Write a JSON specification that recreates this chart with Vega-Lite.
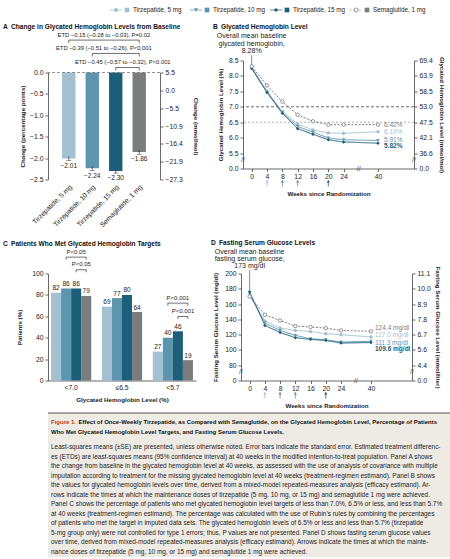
{
"$schema": "https://vega.github.io/schema/vega-lite/v6.json",
"background": "white",
"padding": {"left": 3, "top": 5, "right": 3, "bottom": 3},
"spacing": 3,
"datasets": {
"legend": [{"series": "Tirzepatide, 5 mg"}, {"series": "Tirzepatide, 10 mg"}, {"series": "Tirzepatide, 15 mg"}, {"series": "Semaglutide, 1 mg"}],
"changeA": [
{"group": "Tirzepatide, 5 mg", "value": -2.01, "lo": -2.06, "hi": -1.96},
{"group": "Tirzepatide, 10 mg", "value": -2.24, "lo": -2.29, "hi": -2.19},
{"group": "Tirzepatide, 15 mg", "value": -2.30, "lo": -2.35, "hi": -2.25},
{"group": "Semaglutide, 1 mg", "value": -1.86, "lo": -1.91, "hi": -1.81}
],
"bracketsA": [
{"id": "a1", "from": "Tirzepatide, 5 mg", "to": "Semaglutide, 1 mg", "level": 0.757, "label": "ETD −0.15 (−0.28 to −0.03), P=0.02", "anchor": "Tirzepatide, 10 mg", "nudge": "mid"},
{"id": "a2", "from": "Tirzepatide, 10 mg", "to": "Semaglutide, 1 mg", "level": 0.445, "label": "ETD −0.39 (−0.51 to −0.26), P<0.001", "anchor": "Tirzepatide, 10 mg", "nudge": "mid"},
{"id": "a3", "from": "Tirzepatide, 15 mg", "to": "Semaglutide, 1 mg", "level": 0.117, "label": "ETD −0.45 (−0.57 to −0.32), P<0.001", "anchor": "Tirzepatide, 15 mg", "nudge": "right"}
],
"hba1c": [
{"series": "Tirzepatide, 5 mg", "week": 0, "value": 8.28}, {"series": "Tirzepatide, 5 mg", "week": 4, "value": 7.50}, {"series": "Tirzepatide, 5 mg", "week": 8, "value": 6.85}, {"series": "Tirzepatide, 5 mg", "week": 12, "value": 6.44}, {"series": "Tirzepatide, 5 mg", "week": 16, "value": 6.25}, {"series": "Tirzepatide, 5 mg", "week": 20, "value": 6.15}, {"series": "Tirzepatide, 5 mg", "week": 24, "value": 6.14}, {"series": "Tirzepatide, 5 mg", "week": 40, "value": 6.19},
{"series": "Tirzepatide, 10 mg", "week": 0, "value": 8.26}, {"series": "Tirzepatide, 10 mg", "week": 4, "value": 7.48}, {"series": "Tirzepatide, 10 mg", "week": 8, "value": 6.82}, {"series": "Tirzepatide, 10 mg", "week": 12, "value": 6.36}, {"series": "Tirzepatide, 10 mg", "week": 16, "value": 6.18}, {"series": "Tirzepatide, 10 mg", "week": 20, "value": 5.99}, {"series": "Tirzepatide, 10 mg", "week": 24, "value": 5.93}, {"series": "Tirzepatide, 10 mg", "week": 40, "value": 5.91},
{"series": "Tirzepatide, 15 mg", "week": 0, "value": 8.24}, {"series": "Tirzepatide, 15 mg", "week": 4, "value": 7.46}, {"series": "Tirzepatide, 15 mg", "week": 8, "value": 6.79}, {"series": "Tirzepatide, 15 mg", "week": 12, "value": 6.29}, {"series": "Tirzepatide, 15 mg", "week": 16, "value": 6.11}, {"series": "Tirzepatide, 15 mg", "week": 20, "value": 5.93}, {"series": "Tirzepatide, 15 mg", "week": 24, "value": 5.86}, {"series": "Tirzepatide, 15 mg", "week": 40, "value": 5.82},
{"series": "Semaglutide, 1 mg", "week": 0, "value": 8.31}, {"series": "Semaglutide, 1 mg", "week": 4, "value": 7.69}, {"series": "Semaglutide, 1 mg", "week": 8, "value": 7.17}, {"series": "Semaglutide, 1 mg", "week": 12, "value": 6.74}, {"series": "Semaglutide, 1 mg", "week": 16, "value": 6.53}, {"series": "Semaglutide, 1 mg", "week": 20, "value": 6.42}, {"series": "Semaglutide, 1 mg", "week": 24, "value": 6.42}, {"series": "Semaglutide, 1 mg", "week": 40, "value": 6.42}
],
"hba1cEnd": [
{"series": "Semaglutide, 1 mg", "week": 40, "value": 6.42, "label": "6.42%"},
{"series": "Tirzepatide, 5 mg", "week": 40, "value": 6.19, "label": "6.19%"},
{"series": "Tirzepatide, 10 mg", "week": 40, "value": 5.91, "label": "5.91%"},
{"series": "Tirzepatide, 15 mg", "week": 40, "value": 5.82, "label": "5.82%"}
],
"arrows": [
{"week": 4, "series": "Tirzepatide, 5 mg"}, {"week": 8, "series": "Semaglutide, 1 mg"}, {"week": 12, "series": "Tirzepatide, 10 mg"}, {"week": 20, "series": "Tirzepatide, 15 mg"}
],
"pctC": [
{"target": "<7.0", "group": "Tirzepatide, 5 mg", "value": 82}, {"target": "<7.0", "group": "Tirzepatide, 10 mg", "value": 86}, {"target": "<7.0", "group": "Tirzepatide, 15 mg", "value": 86}, {"target": "<7.0", "group": "Semaglutide, 1 mg", "value": 79},
{"target": "≤6.5", "group": "Tirzepatide, 5 mg", "value": 69}, {"target": "≤6.5", "group": "Tirzepatide, 10 mg", "value": 77}, {"target": "≤6.5", "group": "Tirzepatide, 15 mg", "value": 80}, {"target": "≤6.5", "group": "Semaglutide, 1 mg", "value": 64},
{"target": "<5.7", "group": "Tirzepatide, 5 mg", "value": 27}, {"target": "<5.7", "group": "Tirzepatide, 10 mg", "value": 40}, {"target": "<5.7", "group": "Tirzepatide, 15 mg", "value": 46}, {"target": "<5.7", "group": "Semaglutide, 1 mg", "value": 19}
],
"bracketsC": [
{"id": "c1", "target": "<7.0", "from": "Tirzepatide, 10 mg", "to": "Semaglutide, 1 mg", "level": 115.3, "label": "P<0.05", "mid": "Tirzepatide, 15 mg", "kind": "w"},
{"id": "c2", "target": "<7.0", "from": "Tirzepatide, 15 mg", "to": "Semaglutide, 1 mg", "level": 103.5, "label": "P<0.05", "mid": "Semaglutide, 1 mg", "kind": "n"},
{"id": "c3", "target": "<5.7", "from": "Tirzepatide, 10 mg", "to": "Semaglutide, 1 mg", "level": 72.3, "label": "P<0.001", "mid": "Tirzepatide, 15 mg", "kind": "w"},
{"id": "c4", "target": "<5.7", "from": "Tirzepatide, 15 mg", "to": "Semaglutide, 1 mg", "level": 59.8, "label": "P<0.001", "mid": "Semaglutide, 1 mg", "kind": "n"}
],
"fsg": [
{"series": "Tirzepatide, 5 mg", "week": 0, "value": 171}, {"series": "Tirzepatide, 5 mg", "week": 4, "value": 137.8}, {"series": "Tirzepatide, 5 mg", "week": 8, "value": 128.6}, {"series": "Tirzepatide, 5 mg", "week": 12, "value": 125.5}, {"series": "Tirzepatide, 5 mg", "week": 16, "value": 124.2}, {"series": "Tirzepatide, 5 mg", "week": 20, "value": 121.2}, {"series": "Tirzepatide, 5 mg", "week": 24, "value": 119.9}, {"series": "Tirzepatide, 5 mg", "week": 40, "value": 117.0},
{"series": "Tirzepatide, 10 mg", "week": 0, "value": 173}, {"series": "Tirzepatide, 10 mg", "week": 4, "value": 135.2}, {"series": "Tirzepatide, 10 mg", "week": 8, "value": 125.5}, {"series": "Tirzepatide, 10 mg", "week": 12, "value": 119.0}, {"series": "Tirzepatide, 10 mg", "week": 16, "value": 114.6}, {"series": "Tirzepatide, 10 mg", "week": 20, "value": 113.3}, {"series": "Tirzepatide, 10 mg", "week": 24, "value": 110.3}, {"series": "Tirzepatide, 10 mg", "week": 40, "value": 111.3},
{"series": "Tirzepatide, 15 mg", "week": 0, "value": 176}, {"series": "Tirzepatide, 15 mg", "week": 4, "value": 132.0}, {"series": "Tirzepatide, 15 mg", "week": 8, "value": 122.9}, {"series": "Tirzepatide, 15 mg", "week": 12, "value": 116.0}, {"series": "Tirzepatide, 15 mg", "week": 16, "value": 113.8}, {"series": "Tirzepatide, 15 mg", "week": 20, "value": 112.4}, {"series": "Tirzepatide, 15 mg", "week": 24, "value": 109.0}, {"series": "Tirzepatide, 15 mg", "week": 40, "value": 109.6},
{"series": "Semaglutide, 1 mg", "week": 0, "value": 170}, {"series": "Semaglutide, 1 mg", "week": 4, "value": 146.0}, {"series": "Semaglutide, 1 mg", "week": 8, "value": 138.6}, {"series": "Semaglutide, 1 mg", "week": 12, "value": 131.2}, {"series": "Semaglutide, 1 mg", "week": 16, "value": 130.0}, {"series": "Semaglutide, 1 mg", "week": 20, "value": 128.6}, {"series": "Semaglutide, 1 mg", "week": 24, "value": 125.5}, {"series": "Semaglutide, 1 mg", "week": 40, "value": 124.4}
],
"fsgEnd": [
{"series": "Semaglutide, 1 mg", "week": 40, "value": 124.4, "label": "124.4 mg/dl"},
{"series": "Tirzepatide, 5 mg", "week": 40, "value": 117.0, "label": "117.0 mg/dl"},
{"series": "Tirzepatide, 10 mg", "week": 40, "value": 111.3, "label": "111.3 mg/dl"},
{"series": "Tirzepatide, 15 mg", "week": 40, "value": 109.6, "label": "109.6 mg/dl"}
],
"caption": [
{"line": 1, "kind": "fig", "text": "Figure 1."},
{"line": 1, "kind": "title1", "text": "Effect of Once-Weekly Tirzepatide, as Compared with Semaglutide, on the Glycated Hemoglobin Level, Percentage of Patients"},
{"line": 2, "kind": "title2", "text": "Who Met Glycated Hemoglobin Level Targets, and Fasting Serum Glucose Levels."},
{"line": 3, "kind": "body", "text": "Least-squares means (±SE) are presented, unless otherwise noted. Error bars indicate the standard error. Estimated treatment differenc-"},
{"line": 4, "kind": "body", "text": "es (ETDs) are least-squares means (95% confidence interval) at 40 weeks in the modified intention-to-treat population. Panel A shows"},
{"line": 5, "kind": "body", "text": "the change from baseline in the glycated hemoglobin level at 40 weeks, as assessed with the use of analysis of covariance with multiple"},
{"line": 6, "kind": "body", "text": "imputation according to treatment for the missing glycated hemoglobin level at 40 weeks (treatment-regimen estimand). Panel B shows"},
{"line": 7, "kind": "body", "text": "the values for glycated hemoglobin levels over time, derived from a mixed-model repeated-measures analysis (efficacy estimand). Ar-"},
{"line": 8, "kind": "body", "text": "rows indicate the times at which the maintenance doses of tirzepatide (5 mg, 10 mg, or 15 mg) and semaglutide 1 mg were achieved."},
{"line": 9, "kind": "body", "text": "Panel C shows the percentage of patients who met glycated hemoglobin level targets of less than 7.0%, 6.5% or less, and less than 5.7%"},
{"line": 10, "kind": "body", "text": "at 40 weeks (treatment-regimen estimand). The percentage was calculated with the use of Rubin’s rules by combining the percentages"},
{"line": 11, "kind": "body", "text": "of patients who met the target in imputed data sets. The glycated hemoglobin levels of 6.5% or less and less than 5.7% (tirzepatide"},
{"line": 12, "kind": "body", "text": "5-mg group only) were not controlled for type 1 errors; thus, P values are not presented. Panel D shows fasting serum glucose values"},
{"line": 13, "kind": "body", "text": "over time, derived from mixed-model repeated-measures analysis (efficacy estimand). Arrows indicate the times at which the mainte-"},
{"line": 14, "kind": "body", "text": "nance doses of tirzepatide (5 mg, 10 mg, or 15 mg) and semaglutide 1 mg were achieved."}
]
},
"vconcat": [
{"spacing": 8.5, "vconcat": [
{
"width": 440, "height": 10,
"data": {"name": "legend"},
"layer": [
{"transform": [{"filter": "datum.series != 'Semaglutide, 1 mg'"}], "mark": {"type": "point", "shape": "stroke", "size": 144, "xOffset": 8, "strokeWidth": 1, "filled": false},
 "encoding": {"x": {"field": "series", "type": "nominal", "bandPosition": 0, "sort": null, "scale": {"type": "band", "domain": ["Tirzepatide, 5 mg", "Tirzepatide, 10 mg", "Tirzepatide, 15 mg", "Semaglutide, 1 mg"], "paddingInner": 0, "paddingOuter": 0.75}, "axis": null}, "y": {"datum": 0, "type": "quantitative", "scale": {"domain": [-1, 1]}, "axis": null}, "color": {"field": "series", "type": "nominal", "scale": {"domain": ["Tirzepatide, 5 mg", "Tirzepatide, 10 mg", "Tirzepatide, 15 mg", "Semaglutide, 1 mg"], "range": ["#a3c1d0", "#5e95ae", "#1d5f78", "#7b7c7e"]}, "legend": null}}},
{"transform": [{"filter": "datum.series == 'Semaglutide, 1 mg'"}], "mark": {"type": "point", "shape": "stroke", "size": 144, "xOffset": 8, "strokeWidth": 1, "strokeDash": [1.5, 1.5], "filled": false},
 "encoding": {"x": {"field": "series", "type": "nominal", "bandPosition": 0}, "y": {"datum": 0, "type": "quantitative"}, "color": {"field": "series", "type": "nominal", "legend": null}}},
{"transform": [{"filter": "datum.series != 'Semaglutide, 1 mg'"}], "mark": {"type": "point", "filled": true, "size": 16, "xOffset": 8, "opacity": 1},
 "encoding": {"x": {"field": "series", "type": "nominal", "bandPosition": 0}, "y": {"datum": 0, "type": "quantitative"}, "color": {"field": "series", "type": "nominal", "legend": null}, "shape": {"field": "series", "type": "nominal", "scale": {"domain": ["Tirzepatide, 5 mg", "Tirzepatide, 10 mg", "Tirzepatide, 15 mg", "Semaglutide, 1 mg"], "range": ["circle", "triangle-down", "diamond", "circle"]}, "legend": null}}},
{"transform": [{"filter": "datum.series == 'Semaglutide, 1 mg'"}], "mark": {"type": "point", "filled": false, "fill": "white", "size": 16, "xOffset": 8, "opacity": 1, "strokeWidth": 0.8},
 "encoding": {"x": {"field": "series", "type": "nominal", "bandPosition": 0}, "y": {"datum": 0, "type": "quantitative"}, "color": {"field": "series", "type": "nominal", "legend": null}}},
{"mark": {"type": "square", "size": 22, "xOffset": 19, "opacity": 1},
 "encoding": {"x": {"field": "series", "type": "nominal", "bandPosition": 0}, "y": {"datum": 0, "type": "quantitative"}, "color": {"field": "series", "type": "nominal", "legend": null}}},
{"mark": {"type": "text", "align": "left", "baseline": "middle", "xOffset": 25, "fontSize": 6.3, "color": "#222"},
 "encoding": {"x": {"field": "series", "type": "nominal", "bandPosition": 0}, "y": {"datum": 0, "type": "quantitative"}, "text": {"field": "series"}}}
]
},
{"spacing": 11, "vconcat": [
{"spacing": 14, "align": "none", "hconcat": [
{
"width": 112, "height": 119,
"title": {"text": "\u00a0\u00a0\u00a0A\u2002Change in Glycated Hemoglobin Levels from Baseline", "dx": -45},
"layer": [
{"layer": [
{"data": {"name": "changeA"}, "mark": {"type": "bar"},
 "encoding": {
  "x": {"field": "group", "type": "nominal", "sort": null, "scale": {"domain": ["Tirzepatide, 5 mg", "Tirzepatide, 10 mg", "Tirzepatide, 15 mg", "Semaglutide, 1 mg"], "paddingInner": 0.43, "paddingOuter": 0.6}, "axis": {"title": null, "labelAngle": -45, "domain": false, "ticks": false, "labelPadding": 4}},
  "y": {"field": "value", "type": "quantitative", "scale": {"domain": [-2.5, 0], "range": [119, 12], "nice": false}, "axis": {"values": [0, -0.5, -1, -1.5, -2, -2.5], "tickCount": 50, "format": ".1f", "title": "Change (percentage points)", "titlePadding": 4}},
  "color": {"field": "group", "type": "nominal", "scale": {"domain": ["Tirzepatide, 5 mg", "Tirzepatide, 10 mg", "Tirzepatide, 15 mg", "Semaglutide, 1 mg"], "range": ["#a3c1d0", "#5e95ae", "#1d5f78", "#7b7c7e"]}, "legend": null}}},
{"data": {"values": [{}]}, "mark": {"type": "rule", "strokeDash": [3, 2], "color": "#777", "strokeWidth": 0.8}, "encoding": {"y": {"datum": 0, "type": "quantitative"}}},
{"data": {"name": "changeA"}, "mark": {"type": "rule", "color": "#333", "strokeWidth": 0.7}, "encoding": {"x": {"field": "group", "type": "nominal"}, "y": {"field": "lo", "type": "quantitative"}, "y2": {"field": "hi"}}},
{"data": {"name": "changeA"}, "mark": {"type": "tick", "color": "#333", "thickness": 0.7, "size": 5}, "encoding": {"x": {"field": "group", "type": "nominal"}, "y": {"field": "lo", "type": "quantitative"}}},
{"data": {"name": "changeA"}, "mark": {"type": "text", "baseline": "top", "dy": 2, "fontSize": 6.5}, "encoding": {"x": {"field": "group", "type": "nominal"}, "y": {"field": "lo", "type": "quantitative"}, "text": {"field": "value", "type": "quantitative", "format": ".2f"}}},
{"data": {"name": "bracketsA"}, "transform": [{"fold": ["from", "to"], "as": ["end", "bar"]}], "mark": {"type": "line", "color": "#333", "strokeWidth": 0.7}, "encoding": {"x": {"field": "bar", "type": "nominal"}, "y": {"field": "level", "type": "quantitative"}, "detail": {"field": "id"}}},
{"data": {"name": "bracketsA"}, "transform": [{"fold": ["from", "to"], "as": ["end", "bar"]}], "mark": {"type": "rule", "color": "#333", "strokeWidth": 0.7, "y2Offset": 3}, "encoding": {"x": {"field": "bar", "type": "nominal"}, "y": {"field": "level", "type": "quantitative"}, "y2": {"field": "level"}}},
{"data": {"name": "bracketsA"}, "transform": [{"filter": "datum.nudge == 'mid'"}], "mark": {"type": "text", "baseline": "middle", "dy": -5.5, "dx": 11.6, "fontSize": 5.8}, "encoding": {"x": {"field": "anchor", "type": "nominal"}, "y": {"field": "level", "type": "quantitative"}, "text": {"field": "label"}}},
{"data": {"name": "bracketsA"}, "transform": [{"filter": "datum.nudge == 'right'"}], "mark": {"type": "text", "baseline": "middle", "dy": -5.5, "dx": 7, "fontSize": 5.8}, "encoding": {"x": {"field": "anchor", "type": "nominal"}, "y": {"field": "level", "type": "quantitative"}, "text": {"field": "label"}}}
]},
{"data": {"values": [{}]}, "mark": {"type": "rule", "opacity": 0}, "encoding": {"y": {"datum": 0, "type": "quantitative", "scale": {"domain": [-27.3, 5.5], "range": [119, 12], "nice": false, "zero": false}, "axis": {"orient": "right", "values": [5.5, 0, -5.5, -10.9, -16.4, -21.9, -27.3], "tickCount": 50, "format": ".1f", "title": "Change (mmol/mol)", "titlePadding": 10}}}}
],
"resolve": {"scale": {"y": "independent"}}
},
{
"width": 171, "height": 108,
"title": {"text": "B\u2002Glycated Hemoglobin Level", "dx": -30},
"layer": [
{"layer": [
{"data": {"values": [{}]}, "mark": {"type": "rule", "strokeDash": [3, 2], "color": "#444", "strokeWidth": 0.8}, "encoding": {"y": {"datum": 7, "type": "quantitative"}}},
{"data": {"values": [{}]}, "mark": {"type": "rule", "strokeDash": [2, 2], "color": "#999", "strokeWidth": 0.8}, "encoding": {"y": {"datum": 6.5, "type": "quantitative"}}},
{"data": {"name": "hba1c"}, "mark": {"type": "line", "strokeWidth": 1},
 "encoding": {
  "x": {"field": "week", "type": "quantitative", "scale": {"domain": [-2.27, 24, 40, 50], "range": [0, 100.6, 135, 171], "nice": false, "zero": false}, "axis": {"values": [0, 4, 8, 12, 16, 20, 24, 40], "tickCount": 50, "title": "Weeks since Randomization", "titlePadding": 10, "labelFlush": false, "labelOverlap": false}},
  "y": {"field": "value", "type": "quantitative", "scale": {"domain": [5, 8.5], "nice": false, "zero": false}, "axis": {"values": [5, 5.5, 6, 6.5, 7, 7.5, 8, 8.5], "tickCount": 50, "labelExpr": "datum.value == 5 ? '0.0' : format(datum.value, '.1f')", "title": "Glycated Hemoglobin Level (%)", "titlePadding": 5, "labelOverlap": false}},
  "color": {"field": "series", "type": "nominal", "legend": null},
  "strokeDash": {"field": "series", "type": "nominal", "scale": {"domain": ["Tirzepatide, 5 mg", "Tirzepatide, 10 mg", "Tirzepatide, 15 mg", "Semaglutide, 1 mg"], "range": [[1, 0], [1, 0], [1, 0], [2, 1.5]]}, "legend": null}}},
{"data": {"name": "hba1c"}, "transform": [{"filter": "datum.series != 'Semaglutide, 1 mg'"}], "mark": {"type": "point", "filled": true, "size": 12, "opacity": 1},
 "encoding": {"x": {"field": "week", "type": "quantitative"}, "y": {"field": "value", "type": "quantitative"}, "color": {"field": "series", "type": "nominal", "legend": null}, "shape": {"field": "series", "type": "nominal", "legend": null}}},
{"data": {"name": "hba1c"}, "transform": [{"filter": "datum.series == 'Semaglutide, 1 mg'"}], "mark": {"type": "point", "filled": false, "fill": "white", "size": 12, "opacity": 1, "strokeWidth": 0.8},
 "encoding": {"x": {"field": "week", "type": "quantitative"}, "y": {"field": "value", "type": "quantitative"}, "color": {"field": "series", "type": "nominal", "legend": null}}},
{"data": {"name": "hba1cEnd"}, "transform": [{"filter": "datum.series != 'Tirzepatide, 15 mg'"}], "mark": {"type": "text", "align": "left", "baseline": "middle", "dx": 6, "fontSize": 6.5},
 "encoding": {"x": {"field": "week", "type": "quantitative"}, "y": {"field": "value", "type": "quantitative"}, "text": {"field": "label"}, "color": {"field": "series", "type": "nominal", "legend": null}}},
{"data": {"name": "hba1cEnd"}, "transform": [{"filter": "datum.series == 'Tirzepatide, 15 mg'"}], "mark": {"type": "text", "align": "left", "baseline": "middle", "dx": 6, "dy": 3, "fontSize": 6.5, "fontWeight": "bold"},
 "encoding": {"x": {"field": "week", "type": "quantitative"}, "y": {"field": "value", "type": "quantitative"}, "text": {"field": "label"}, "color": {"field": "series", "type": "nominal", "legend": null}}},
{"data": {"values": [{}]}, "mark": {"type": "text", "text": ["Overall mean baseline", "glycated hemoglobin,", "8.28%"], "lineHeight": 7.4, "baseline": "top", "align": "center", "fontSize": 7, "color": "#222"},
 "encoding": {"x": {"datum": 0, "type": "quantitative"}, "y": {"datum": 9.42, "type": "quantitative"}}},
{"data": {"values": [{}]}, "mark": {"type": "rule", "strokeWidth": 0.7, "color": "#555"},
 "encoding": {"x": {"datum": 0, "type": "quantitative"}, "y": {"datum": 8.67, "type": "quantitative"}, "y2": {"datum": 8.36}}},
{"data": {"name": "arrows"}, "mark": {"type": "rule", "strokeWidth": 0.8},
 "encoding": {"x": {"field": "week", "type": "quantitative"}, "y": {"datum": 4.42, "type": "quantitative"}, "y2": {"datum": 4.56}, "color": {"field": "series", "type": "nominal", "legend": null}}},
{"data": {"name": "arrows"}, "mark": {"type": "point", "shape": "triangle-up", "filled": true, "size": 10, "opacity": 1},
 "encoding": {"x": {"field": "week", "type": "quantitative"}, "y": {"datum": 4.59, "type": "quantitative"}, "color": {"field": "series", "type": "nominal", "legend": null}}},
{"data": {"values": [{}]}, "mark": {"type": "text", "text": "//", "fontSize": 7, "color": "#444", "baseline": "middle"}, "encoding": {"x": {"datum": -2.27, "type": "quantitative"}, "y": {"datum": 5.28, "type": "quantitative"}}},
{"data": {"values": [{}]}, "mark": {"type": "text", "text": "//", "fontSize": 7, "color": "#444", "baseline": "middle"}, "encoding": {"x": {"datum": 50, "type": "quantitative"}, "y": {"datum": 5.28, "type": "quantitative"}}},
{"data": {"values": [{}]}, "mark": {"type": "text", "text": "//", "fontSize": 7, "color": "#444", "baseline": "middle"}, "encoding": {"x": {"datum": 31, "type": "quantitative"}, "y": {"datum": 5, "type": "quantitative"}}}
]},
{"data": {"values": [{}]}, "mark": {"type": "rule", "opacity": 0}, "encoding": {"y": {"datum": 5, "type": "quantitative", "scale": {"domain": [5, 8.5], "nice": false, "zero": false}, "axis": {"orient": "right", "values": [5, 5.5, 6, 6.5, 7, 7.5, 8, 8.5], "tickCount": 50, "labelExpr": "datum.value == 5 ? '0.0' : format((datum.value - 2.15) * 10.929, '.1f')", "title": "Glycated Hemoglobin Level (mmol/mol)", "titlePadding": 6, "labelOverlap": false}}}}
],
"resolve": {"scale": {"y": "independent"}}
}
]},
{"spacing": 15, "align": "none", "hconcat": [
{
"width": 148, "height": 107,
"title": {"text": "\u00a0\u00a0\u00a0C\u2002Patients Who Met Glycated Hemoglobin Targets", "dx": -45},
"layer": [
{"data": {"name": "pctC"}, "mark": {"type": "bar"},
 "encoding": {
  "x": {"field": "target", "type": "nominal", "sort": null, "scale": {"domain": ["<7.0", "≤6.5", "<5.7"], "paddingInner": 0.21, "paddingOuter": 0.06}, "axis": {"title": "Glycated Hemoglobin Level (%)", "labelAngle": 0, "ticks": false, "titlePadding": 5, "labelPadding": 4}},
  "xOffset": {"field": "group", "type": "nominal", "sort": null, "scale": {"domain": ["Tirzepatide, 5 mg", "Tirzepatide, 10 mg", "Tirzepatide, 15 mg", "Semaglutide, 1 mg"], "paddingInner": 0, "paddingOuter": 0}},
  "y": {"field": "value", "type": "quantitative", "scale": {"domain": [0, 100], "nice": false}, "axis": {"values": [0, 20, 40, 60, 80, 100], "tickCount": 50, "title": "Patients (%)", "titlePadding": 9}},
  "color": {"field": "group", "type": "nominal", "legend": null}}},
{"data": {"name": "pctC"}, "mark": {"type": "text", "baseline": "bottom", "dy": -1.5, "fontSize": 6.5},
 "encoding": {"x": {"field": "target", "type": "nominal"}, "xOffset": {"field": "group", "type": "nominal"}, "y": {"field": "value", "type": "quantitative"}, "text": {"field": "value", "type": "quantitative"}}},
{"data": {"name": "bracketsC"}, "transform": [{"fold": ["from", "to"], "as": ["end", "bar"]}], "mark": {"type": "line", "color": "#333", "strokeWidth": 0.7},
 "encoding": {"x": {"field": "target", "type": "nominal"}, "xOffset": {"field": "bar", "type": "nominal"}, "y": {"field": "level", "type": "quantitative"}, "detail": {"field": "id"}}},
{"data": {"name": "bracketsC"}, "transform": [{"fold": ["from", "to"], "as": ["end", "bar"]}], "mark": {"type": "rule", "color": "#333", "strokeWidth": 0.7, "y2Offset": 2.5},
 "encoding": {"x": {"field": "target", "type": "nominal"}, "xOffset": {"field": "bar", "type": "nominal"}, "y": {"field": "level", "type": "quantitative"}, "y2": {"field": "level"}}},
{"data": {"name": "bracketsC"}, "transform": [{"filter": "datum.kind == 'w'"}], "mark": {"type": "text", "baseline": "middle", "dy": -5.5, "fontSize": 6},
 "encoding": {"x": {"field": "target", "type": "nominal"}, "xOffset": {"field": "mid", "type": "nominal"}, "y": {"field": "level", "type": "quantitative"}, "text": {"field": "label"}}},
{"data": {"name": "bracketsC"}, "transform": [{"filter": "datum.kind == 'n'"}], "mark": {"type": "text", "baseline": "middle", "dy": -5.5, "dx": -4.9, "fontSize": 6},
 "encoding": {"x": {"field": "target", "type": "nominal"}, "xOffset": {"field": "mid", "type": "nominal"}, "y": {"field": "level", "type": "quantitative"}, "text": {"field": "label"}}}
]
},
{
"width": 171, "height": 107,
"title": {"text": "D\u2002Fasting Serum Glucose Levels", "dx": -30},
"layer": [
{"layer": [
{"data": {"name": "fsg"}, "mark": {"type": "line", "strokeWidth": 1},
 "encoding": {
  "x": {"field": "week", "type": "quantitative", "scale": {"domain": [-2.27, 24, 40, 50], "range": [0, 100, 130, 171], "nice": false, "zero": false}, "axis": {"values": [0, 4, 8, 12, 16, 20, 24, 40], "tickCount": 50, "title": "Weeks since Randomization", "titlePadding": 10, "labelFlush": false, "labelOverlap": false}},
  "y": {"field": "value", "type": "quantitative", "scale": {"domain": [60, 200], "nice": false, "zero": false}, "axis": {"values": [60, 80, 100, 120, 140, 160, 180, 200], "tickCount": 50, "labelExpr": "datum.value == 60 ? '0' : format(datum.value, 'd')", "title": "Fasting Serum Glucose Level (mg/dl)", "titlePadding": 6, "labelOverlap": false}},
  "color": {"field": "series", "type": "nominal", "legend": null},
  "strokeDash": {"field": "series", "type": "nominal", "legend": null}}},
{"data": {"name": "fsg"}, "transform": [{"filter": "datum.series != 'Semaglutide, 1 mg'"}], "mark": {"type": "point", "filled": true, "size": 12, "opacity": 1},
 "encoding": {"x": {"field": "week", "type": "quantitative"}, "y": {"field": "value", "type": "quantitative"}, "color": {"field": "series", "type": "nominal", "legend": null}, "shape": {"field": "series", "type": "nominal", "legend": null}}},
{"data": {"name": "fsg"}, "transform": [{"filter": "datum.series == 'Semaglutide, 1 mg'"}], "mark": {"type": "point", "filled": false, "fill": "white", "size": 12, "opacity": 1, "strokeWidth": 0.8},
 "encoding": {"x": {"field": "week", "type": "quantitative"}, "y": {"field": "value", "type": "quantitative"}, "color": {"field": "series", "type": "nominal", "legend": null}}},
{"data": {"name": "fsgEnd"}, "transform": [{"filter": "datum.series == 'Semaglutide, 1 mg'"}], "mark": {"type": "text", "align": "left", "baseline": "middle", "dx": 4, "dy": -3.5, "fontSize": 6.5},
 "encoding": {"x": {"field": "week", "type": "quantitative"}, "y": {"field": "value", "type": "quantitative"}, "text": {"field": "label"}, "color": {"field": "series", "type": "nominal", "legend": null}}},
{"data": {"name": "fsgEnd"}, "transform": [{"filter": "datum.series == 'Tirzepatide, 5 mg'"}], "mark": {"type": "text", "align": "left", "baseline": "middle", "dx": 4, "dy": -1.5, "fontSize": 6.5},
 "encoding": {"x": {"field": "week", "type": "quantitative"}, "y": {"field": "value", "type": "quantitative"}, "text": {"field": "label"}, "color": {"field": "series", "type": "nominal", "legend": null}}},
{"data": {"name": "fsgEnd"}, "transform": [{"filter": "datum.series == 'Tirzepatide, 10 mg'"}], "mark": {"type": "text", "align": "left", "baseline": "middle", "dx": 4, "dy": 1.5, "fontSize": 6.5},
 "encoding": {"x": {"field": "week", "type": "quantitative"}, "y": {"field": "value", "type": "quantitative"}, "text": {"field": "label"}, "color": {"field": "series", "type": "nominal", "legend": null}}},
{"data": {"name": "fsgEnd"}, "transform": [{"filter": "datum.series == 'Tirzepatide, 15 mg'"}], "mark": {"type": "text", "align": "left", "baseline": "middle", "dx": 4, "dy": 6, "fontSize": 6.5, "fontWeight": "bold"},
 "encoding": {"x": {"field": "week", "type": "quantitative"}, "y": {"field": "value", "type": "quantitative"}, "text": {"field": "label"}, "color": {"field": "series", "type": "nominal", "legend": null}}},
{"data": {"values": [{}]}, "mark": {"type": "text", "text": ["Overall mean baseline", "fasting serum glucose,", "173 mg/dl"], "lineHeight": 7.3, "baseline": "top", "align": "center", "fontSize": 7, "color": "#222"},
 "encoding": {"x": {"datum": 0, "type": "quantitative"}, "y": {"datum": 233.5, "type": "quantitative"}}},
{"data": {"values": [{}]}, "mark": {"type": "rule", "strokeWidth": 0.7, "color": "#555"},
 "encoding": {"x": {"datum": 0, "type": "quantitative"}, "y": {"datum": 204.8, "type": "quantitative"}, "y2": {"datum": 178}}},
{"data": {"name": "arrows"}, "mark": {"type": "rule", "strokeWidth": 0.8},
 "encoding": {"x": {"field": "week", "type": "quantitative"}, "y": {"datum": 36.4, "type": "quantitative"}, "y2": {"datum": 42.5}, "color": {"field": "series", "type": "nominal", "legend": null}}},
{"data": {"name": "arrows"}, "mark": {"type": "point", "shape": "triangle-up", "filled": true, "size": 10, "opacity": 1},
 "encoding": {"x": {"field": "week", "type": "quantitative"}, "y": {"datum": 43.5, "type": "quantitative"}, "color": {"field": "series", "type": "nominal", "legend": null}}},
{"data": {"values": [{}]}, "mark": {"type": "text", "text": "//", "fontSize": 7, "color": "#444", "baseline": "middle"}, "encoding": {"x": {"datum": -2.27, "type": "quantitative"}, "y": {"datum": 71, "type": "quantitative"}}},
{"data": {"values": [{}]}, "mark": {"type": "text", "text": "//", "fontSize": 7, "color": "#444", "baseline": "middle"}, "encoding": {"x": {"datum": 50, "type": "quantitative"}, "y": {"datum": 71, "type": "quantitative"}}},
{"data": {"values": [{}]}, "mark": {"type": "text", "text": "//", "fontSize": 7, "color": "#444", "baseline": "middle"}, "encoding": {"x": {"datum": 32, "type": "quantitative"}, "y": {"datum": 60, "type": "quantitative"}}}
]},
{"data": {"values": [{}]}, "mark": {"type": "rule", "opacity": 0}, "encoding": {"y": {"datum": 60, "type": "quantitative", "scale": {"domain": [60, 200], "nice": false, "zero": false}, "axis": {"orient": "right", "values": [60, 80, 100, 120, 140, 160, 180, 200], "tickCount": 50, "labelExpr": "datum.value == 60 ? '0.0' : format(datum.value / 18, '.1f')", "title": "Fasting Serum Glucose Level (mmol/liter)", "titlePadding": 4, "labelOverlap": false}}}}
],
"resolve": {"scale": {"y": "independent"}}
}
]}
]}
]},
{
"width": 444, "height": 144,
"view": {"fill": "#eeebe5", "stroke": null},
"data": {"name": "caption"},
"layer": [
{"data": {"values": [{}]}, "mark": {"type": "rule", "color": "#555", "strokeWidth": 1.2}, "encoding": {"y": {"datum": -0.56, "type": "quantitative", "scale": {"domain": [-0.56, 14.52], "reverse": true, "nice": false, "zero": false}, "axis": null}}},
{"transform": [{"filter": "datum.kind == 'body'"}], "mark": {"type": "text", "align": "left", "baseline": "middle", "dx": 3, "fontSize": 6.45, "color": "#222"},
 "encoding": {"x": {"datum": 0, "type": "quantitative", "scale": {"domain": [0, 1]}, "axis": null}, "y": {"field": "line", "type": "quantitative"}, "text": {"field": "text"}}},
{"transform": [{"filter": "datum.kind == 'fig'"}], "mark": {"type": "text", "align": "left", "baseline": "middle", "dx": 3, "dy": -5.7, "fontSize": 6.0, "fontWeight": "bold", "color": "#c0392b"},
 "encoding": {"x": {"datum": 0, "type": "quantitative"}, "y": {"field": "line", "type": "quantitative"}, "text": {"field": "text"}}},
{"transform": [{"filter": "datum.kind == 'title1'"}], "mark": {"type": "text", "align": "left", "baseline": "middle", "dx": 30.5, "dy": -5.7, "fontSize": 6.0, "fontWeight": "bold", "color": "#111"},
 "encoding": {"x": {"datum": 0, "type": "quantitative"}, "y": {"field": "line", "type": "quantitative"}, "text": {"field": "text"}}},
{"transform": [{"filter": "datum.kind == 'title2'"}], "mark": {"type": "text", "align": "left", "baseline": "middle", "dx": 3, "dy": -5.7, "fontSize": 6.0, "fontWeight": "bold", "color": "#111"},
 "encoding": {"x": {"datum": 0, "type": "quantitative"}, "y": {"field": "line", "type": "quantitative"}, "text": {"field": "text"}}}
]
}
],
"config": {
"font": "Liberation Sans",
"view": {"stroke": null},
"axis": {"labelFontSize": 6.8, "titleFontSize": 6.2, "titleFontWeight": "bold", "labelColor": "#222", "titleColor": "#222", "domainColor": "#444", "tickColor": "#444", "tickSize": 3, "grid": false, "labelPadding": 2, "domainWidth": 0.8, "tickWidth": 0.8, "labelFlush": false, "labelOverlap": false},
"title": {"fontSize": 6.6, "fontWeight": "bold", "anchor": "start", "frame": "group", "color": "#111", "offset": 1.5},
"text": {"fontSize": 7, "color": "#222"}
}
}
